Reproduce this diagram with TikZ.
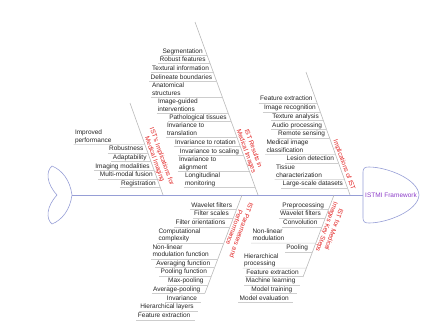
\documentclass[tikz,border=0pt]{standalone}
\usepackage{fontspec}
\setmainfont{Liberation Sans}
\usetikzlibrary{calc}
\definecolor{spinec}{RGB}{150,158,214}
\definecolor{headtxt}{RGB}{140,60,200}
\definecolor{redlab}{RGB}{225,35,35}
\definecolor{bonec}{RGB}{185,185,185}
\definecolor{ribc}{RGB}{205,205,205}
\tikzset{
 itm/.style={font=\fontsize{6.5}{7.6}\selectfont, text=black!85, inner xsep=1.5pt, inner ysep=0pt, outer sep=0pt, execute at end node=\strut},
 lab/.style={font=\fontsize{6.5}{7.6}\selectfont, text=redlab, inner sep=0pt, align=center},
 bone/.style={draw=bonec, line width=0.6pt},
 ribline/.style={draw=ribc, line width=0.5pt},
 fishline/.style={draw=spinec, line width=0.6pt},
}
\newcommand\ribR[4]{%
  \coordinate (#1b) at (intersection cs: first line={(0,#3)--(1,#3)}, second line={(#2a)--(#2b)});
  \node[itm, anchor=south east] (#1) at ([xshift=-3pt]#1b) {#4};
  \draw[ribline] (#1.south west) -- (#1b);
}
\newcommand\ribL[5]{%
  \coordinate (#1b) at (intersection cs: first line={(0,#3)--(1,#3)}, second line={(#2a)--(#2b)});
  \node[itm, anchor=south west, align=left] (#1) at (#4,#3) {#5};
  \draw[ribline] (#1.south west) -- (#1b);
}
\begin{document}
\begin{tikzpicture}[x=1pt,y=-1pt]
\useasboundingbox (0,0) rectangle (423,325);
% spine
\coordinate (tailj) at (72,195);
\coordinate (headl) at (363,195);
\draw[fishline, line width=0.7pt] (tailj) -- (headl);
% head
\draw[fishline] (headl) -- (363,172) .. controls (363,168) and (365,167) .. (369,167)
  .. controls (387,167) and (418,179) .. (419,195)
  .. controls (418,211) and (387,223) .. (369,223)
  .. controls (365,223) and (363,222) .. (363,218) -- cycle;
\node[font=\fontsize{6.5}{7.6}\selectfont, text=headtxt, anchor=west, inner sep=0pt] (head) at (365,195) {ISTMI Framework};
% tail
\draw[fishline] (tailj) .. controls (70,180) and (62,170) .. (52,166)
  .. controls (46,171) and (46,183) .. (57,195)
  .. controls (46,207) and (46,219) .. (52,224)
  .. controls (62,220) and (70,210) .. (tailj);
% bones
\coordinate (b1a) at (130,103); \coordinate (b1b) at (163,195);
\coordinate (b2a) at (195,22);  \coordinate (b2b) at (258,195);
\coordinate (b3a) at (306,72);  \coordinate (b3b) at (350,195);
\coordinate (b4a) at (242,195); \coordinate (b4b) at (205,293);
\coordinate (b5a) at (334,195); \coordinate (b5b) at (303,277);
\draw[bone] (b1a) -- (b1b);
\draw[bone] (b2a) -- (b2b);
\draw[bone] (b3a) -- (b3b);
\draw[bone] (b4a) -- (b4b);
\draw[bone] (b5a) -- (b5b);
% bone 1
\ribL{i11}{b1}{144.5}{73.5}{Improved\\performance}
\ribR{i12}{b1}{153.1}{Robustness}
\ribR{i13}{b1}{161.7}{Adaptability}
\ribR{i14}{b1}{170.3}{Imaging modalities}
\ribR{i15}{b1}{178.9}{Multi-modal fusion}
\ribR{i16}{b1}{187.5}{Registration}
% bone 2
\ribR{i21}{b2}{55.5}{Segmentation}
\ribR{i22}{b2}{63.5}{Robust features}
\ribR{i23}{b2}{72.5}{Textural information}
\ribR{i24}{b2}{81.5}{Delineate boundaries}
\ribL{i25}{b2}{97.5}{150.5}{Anatomical\\structures}
\ribL{i26}{b2}{113.5}{156.5}{Image-guided\\interventions}
\ribR{i27}{b2}{121.5}{Pathological tissues}
\ribL{i28}{b2}{137.5}{165.5}{Invariance to\\translation}
\ribR{i29}{b2}{146.5}{Invariance to rotation}
\ribR{i2a}{b2}{155.5}{Invariance to scaling}
\ribL{i2b}{b2}{171.5}{177.5}{Invariance to\\alignment}
\ribL{i2c}{b2}{187.5}{183.5}{Longitudinal\\monitoring}
% bone 3
\ribR{i31}{b3}{103}{Feature extraction}
\ribR{i32}{b3}{112}{Image recognition}
\ribR{i33}{b3}{120.5}{Texture analysis}
\ribR{i34}{b3}{129.5}{Audio processing}
\ribR{i35}{b3}{138}{Remote sensing}
\ribL{i36}{b3}{154.5}{265}{Medical image\\classification}
\ribR{i37}{b3}{163}{Lesion detection}
\ribL{i38}{b3}{179.5}{274.5}{Tissue\\characterization}
\ribR{i39}{b3}{188}{Large-scale datasets}
% bone 4
\ribR{i41}{b4}{209.5}{Wavelet filters}
\ribR{i42}{b4}{218}{Filter scales}
\ribR{i43}{b4}{227}{Filter orientations}
\ribL{i44}{b4}{243}{157}{Computational\\complexity}
\ribL{i45}{b4}{259}{151}{Non-linear\\modulation function}
\ribR{i46}{b4}{267.5}{Averaging function}
\ribR{i47}{b4}{276}{Pooling function}
\ribR{i48}{b4}{285}{Max-pooling}
\ribR{i49}{b4}{293.5}{Average-pooling}
\ribR{i4a}{b4}{302.5}{Invariance}
\ribR{i4b}{b4}{311}{Hierarchical layers}
\ribR{i4c}{b4}{320}{Feature extraction}
% bone 5
\ribR{i51}{b5}{209.5}{Preprocessing}
\ribR{i52}{b5}{218}{Wavelet filters}
\ribR{i53}{b5}{227}{Convolution}
\ribL{i54}{b5}{243}{251}{Non-linear\\modulation}
\ribR{i55}{b5}{252}{Pooling}
\ribL{i56}{b5}{268}{242.5}{Hierarchical\\processing}
\ribR{i57}{b5}{276.5}{Feature extraction}
\ribR{i58}{b5}{285}{Machine learning}
\ribR{i59}{b5}{293.5}{Model training}
\ribR{i5a}{b5}{302.5}{Model evaluation}
% labels
\node[lab, rotate=-70] (l1) at (158,158) {IST's Implications for\\Medical Imaging};
\node[lab, rotate=-70] (l2) at (249.5,150) {IST Results in\\Medical Images};
\node[lab, rotate=-70] (l3) at (344,165) {Implications of IST};
\node[lab, rotate=-110] (l4) at (238,229) {IST Parameters and\\Performance};
\node[lab, rotate=-110] (l5) at (330,228) {IST for Medical\\Images Key Steps};
\end{tikzpicture}
\end{document}
